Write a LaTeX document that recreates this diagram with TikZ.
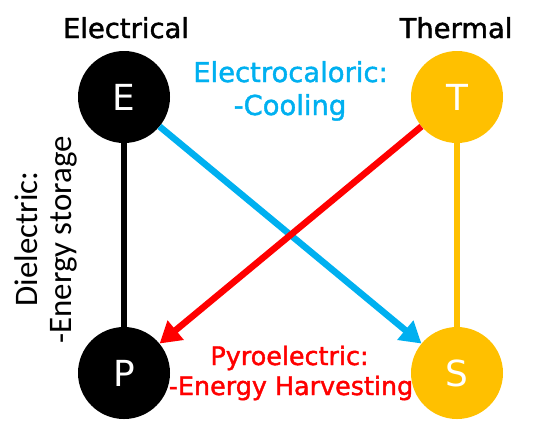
\documentclass[tikz,border=0pt]{standalone}
\usepackage{fontspec}
\setmainfont{DejaVu Sans}
\newfontfamily\heavyfont{DejaVu Sans}[FakeBold=1.5]
\newfontfamily\calibfont{Carlito}
\usetikzlibrary{arrows.meta}
\definecolor{eblue}{RGB}{0,176,240}
\definecolor{tyel}{RGB}{255,192,0}
\definecolor{pred}{RGB}{255,0,0}
\begin{document}
\begin{tikzpicture}[x=1bp,y=-1bp,
  ball/.style={circle, minimum size=92bp, inner sep=0pt, text=white,
    font=\fontsize{36}{36}\selectfont},
  lbl/.style={anchor=base, inner sep=0pt, font=\heavyfont\fontsize{27.5}{33}\selectfont},
  redlbl/.style={anchor=base, inner sep=0pt, text=pred, font=\heavyfont\fontsize{25.5}{30}\selectfont},
  sidelbl/.style={anchor=base, inner sep=0pt, rotate=90,
    font=\calibfont\fontsize{33}{33}\selectfont},
  conn/.style={line width=6.8bp},
  arr/.style={line width=6.5bp, -{Triangle[length=21bp,width=24bp]}}]
\useasboundingbox (0,0) rectangle (534,421);
% nodes
\node[ball, fill=black] (E) at (124,97) {E};
\node[ball, fill=tyel]  (T) at (457,97) {T};
\node[ball, fill=black] (P) at (124,373) {P};
\node[ball, fill=tyel]  (S) at (457,373) {S};
% connectors
\draw[conn, black] (E) -- (P);
\draw[conn, tyel] (T) -- (S);
\draw[arr, eblue] (E) -- (S);
\draw[arr, pred] (T) -- (P);
% labels
\node[lbl] (lelec) at (126,38) {Electrical};
\node[lbl] (ltherm) at (456,38) {Thermal};
\node[lbl, text=eblue] (lec1) at (290.5,82) {Electrocaloric:};
\node[lbl, text=eblue] (lec2) at (290,115) {-Cooling};
\node[redlbl] (lpy1) at (289.5,365) {Pyroelectric:};
\node[redlbl] (lpy2) at (291,395) {-Energy Harvesting};
\node[sidelbl] (ld1) at (37,239) {Dielectric:};
\node[sidelbl] (ld2) at (71,240) {-Energy storage};
\end{tikzpicture}
\end{document}
